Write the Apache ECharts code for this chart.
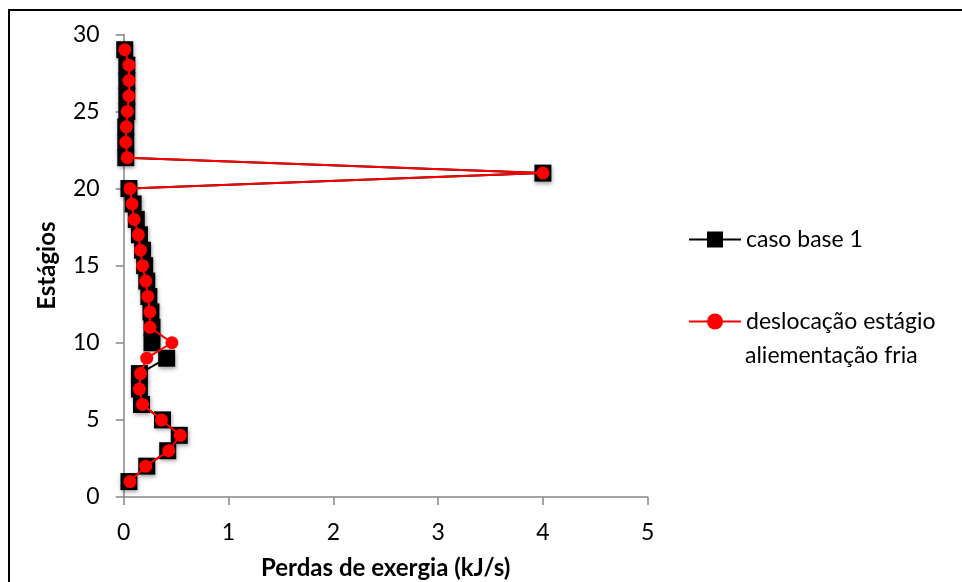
<!DOCTYPE html>
<html>
<head>
<meta charset="utf-8">
<script src="https://cdn.jsdelivr.net/npm/echarts@6/dist/echarts.min.js"></script>
<style>html,body{margin:0;padding:0;background:#fff}#c{width:962px;height:582px}</style>
</head>
<body>
<div id="c"></div>
<script>
// Stages (y axis)
var stages = [1,2,3,4,5,6,7,8,9,10,11,12,13,14,15,16,17,18,19,20,21,22,23,24,25,26,27,28,29];
// Exergy losses (kJ/s) per stage
var casoBase = [0.05,0.22,0.42,0.53,0.37,0.17,0.15,0.15,0.41,0.27,0.27,0.26,0.24,0.22,0.20,0.18,0.15,0.12,0.09,0.05,4.00,0.02,0.02,0.02,0.03,0.03,0.03,0.03,0.01];
var deslocacao = [0.06,0.21,0.43,0.54,0.36,0.18,0.15,0.16,0.22,0.46,0.25,0.25,0.23,0.21,0.18,0.16,0.14,0.10,0.08,0.06,4.00,0.035,0.02,0.025,0.035,0.05,0.05,0.05,0.01];
var xTicks = [0,1,2,3,4,5];
var yTicks = [0,5,10,15,20,25,30];
var seriesNames = ['caso base 1','deslocação estágio aliementação fria'];
var legendLines = ['deslocação estágio','aliementação fria'];

function pairs(vals){ return vals.map(function(v,i){ return [v, stages[i]]; }); }

var FONT = 'Lato, "Open Sans", sans-serif';
var chart = echarts.init(document.getElementById('c'), null, {renderer:'canvas'});
chart.setOption({
  animation:false,
  backgroundColor:'#fff',
  grid:{left:123.7, right:314.3, top:34.3, bottom:85, outerBoundsMode:'none', containLabel:false},
  xAxis:{type:'value', min:xTicks[0], max:xTicks[xTicks.length-1], interval:1,
    name:'Perdas de exergia (kJ/s)', nameLocation:'middle', nameGap:59,
    nameTextStyle:{fontFamily:FONT, fontSize:24, fontWeight:'bold', color:'#000'},
    axisLine:{lineStyle:{color:'#868686', width:1.5}},
    axisTick:{show:true, length:8, lineStyle:{color:'#868686', width:1.5}},
    axisLabel:{fontFamily:FONT, fontSize:23, color:'#000', margin:24},
    splitLine:{show:false}},
  yAxis:{type:'value', min:yTicks[0], max:yTicks[yTicks.length-1], interval:5,
    name:'Estágios', nameLocation:'middle', nameGap:64,
    nameTextStyle:{fontFamily:FONT, fontSize:24, fontWeight:'bold', color:'#000'},
    axisLine:{show:true, lineStyle:{color:'#868686', width:1.5}},
    axisTick:{show:true, length:8, lineStyle:{color:'#868686', width:1.5}},
    axisLabel:{fontFamily:FONT, fontSize:23, color:'#000', margin:24},
    splitLine:{show:false}},
  legend:{orient:'vertical', left:688, top:228, itemWidth:52, itemHeight:20, itemGap:59, padding:0,
    textStyle:{fontFamily:FONT, fontSize:23, color:'#000'},
    data:[seriesNames[0], seriesNames[1]],
    formatter:function(n){ return n===seriesNames[1] ? legendLines[0] : n; }
  },
  series:[
    {name:seriesNames[0], type:'line', data:pairs(casoBase), symbol:'rect', symbolSize:17,
      lineStyle:{color:'#000', width:2}, itemStyle:{color:'#000', shadowColor:'rgba(0,0,0,0.35)', shadowBlur:4, shadowOffsetY:2, shadowOffsetX:1},
      z:2},
    {name:seriesNames[1], type:'line', data:pairs(deslocacao), symbol:'circle', symbolSize:13,
      lineStyle:{color:'#ff0000', width:2}, itemStyle:{color:'#ff0000'}, z:3}
  ],
  graphic:[
    {type:'rect', shape:{x:9, y:10, width:2000, height:2000}, style:{fill:null, stroke:'#000', lineWidth:2}, z:-1, silent:true},
    {type:'text', left:745, top:344, style:{text:legendLines[1], font:'23px ' + FONT, fill:'#000'}, silent:true}
  ]
});
</script>
</body>
</html>
